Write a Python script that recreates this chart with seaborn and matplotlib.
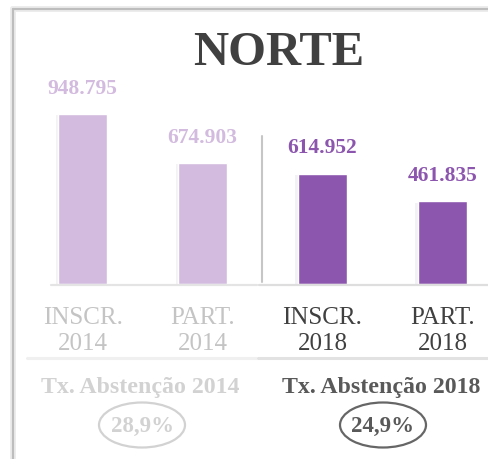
import numpy as np
import pandas as pd
import matplotlib.pyplot as plt
import seaborn as sns
from matplotlib.lines import Line2D
from matplotlib.patches import Ellipse
import matplotlib.patheffects as pe

# data
categories = ["INSCR.\n2014", "PART.\n2014", "INSCR.\n2018", "PART.\n2018"]
values = [948795, 674903, 614952, 461835]
value_labels = ["948.795", "674.903", "614.952", "461.835"]
abst_labels = ["Tx. Abstenção 2014", "Tx. Abstenção 2018"]
abst_values = ["28,9%", "24,9%"]

bar_colors = ["#d3bbdf", "#d3bbdf", "#8c56ae", "#8c56ae"]
tick_colors = ["#c4c4c4", "#c4c4c4", "#404040", "#404040"]
abst_text_colors = ["#d2d2d2", "#595959"]
abst_edge_colors = ["#d2d2d2", "#666666"]

W, H = 489, 460
sns.set_style("white")
plt.rcParams["font.family"] = ["Liberation Serif", "DejaVu Serif"]

fig = plt.figure(figsize=(W / 100, H / 100), dpi=100)


def fx(px):
    return px / W


def fy(py):
    return 1 - py / H


# bar axes: x=0 at 82.7px, 120px per category; y=0 at 285px
ppu = 119.9
x0 = 82.7
xlim = (-0.45, 3.35)
ylim = (0, 1.2e6)
scale = 170 / 948795
left = x0 + xlim[0] * ppu
right = x0 + xlim[1] * ppu
top = 285 - ylim[1] * scale
ax = fig.add_axes([fx(left), fy(285), fx(right - left), (285 - top) / H])

df = pd.DataFrame({"cat": categories, "val": values})
sns.barplot(data=df, x="cat", y="val", hue="cat", palette=bar_colors,
            width=0.405, legend=False, ax=ax, saturation=1)
for p in ax.patches:
    p.set_path_effects([pe.SimplePatchShadow(offset=(-2, -1), alpha=0.06),
                        pe.Normal()])

ax.set_xlim(*xlim)
ax.set_ylim(*ylim)
ax.set_xlabel("")
ax.set_ylabel("")
ax.set_yticks([])
sns.despine(ax=ax, left=True, bottom=True)
ax.tick_params(axis="x", length=0, pad=15.5)
for lbl, c in zip(ax.get_xticklabels(), tick_colors):
    lbl.set_color(c)
    lbl.set_fontsize(18)
    lbl.set_linespacing(1.28)

for i, (v, t) in enumerate(zip(values, value_labels)):
    ax.annotate(t, (i, v), xytext=(0, 19), textcoords="offset points",
                ha="center", va="center", fontsize=15.5, fontweight="bold",
                color=bar_colors[i])

# title
fig.text(fx(279), fy(53), "NORTE", ha="center", va="center",
         fontsize=35, fontweight="bold", color="#404040")

# frame with soft shadow
for lw, c in [(6, "#ececec"), (2.2, "#bdbdbd")]:
    fig.add_artist(Line2D([fx(13), fx(13)], [fy(10), fy(H + 5)],
                          transform=fig.transFigure, color=c, lw=lw * 0.72))
    fig.add_artist(Line2D([fx(13), fx(W + 5)], [fy(10), fy(10)],
                          transform=fig.transFigure, color=c, lw=lw * 0.72))

# separator between years
fig.add_artist(Line2D([fx(262), fx(262)], [fy(137), fy(283)],
                      transform=fig.transFigure, color="#c6c6c6", lw=1.5))

# baselines
fig.add_artist(Line2D([fx(51), fx(257)], [fy(285.5), fy(285.5)],
                      transform=fig.transFigure, color="#e4e4e4", lw=1.6))
fig.add_artist(Line2D([fx(259), fx(W)], [fy(285.5), fy(285.5)],
                      transform=fig.transFigure, color="#dedede", lw=1.6))
fig.add_artist(Line2D([fx(27), fx(256)], [fy(359), fy(359)],
                      transform=fig.transFigure, color="#f0f0f0", lw=2.2))
fig.add_artist(Line2D([fx(258), fx(W)], [fy(359), fy(359)],
                      transform=fig.transFigure, color="#e2e2e2", lw=2.2))

# abstention rates
for cx, lab, val, tc, ec in zip([140, 381], abst_labels, abst_values,
                                abst_text_colors, abst_edge_colors):
    fig.text(fx(cx), fy(388), lab, ha="center", va="center",
             fontsize=17.2, fontweight="bold", color=tc)
    ex = cx + 2
    fig.add_artist(Ellipse((fx(ex), fy(426)), 86 / W, 45 / H,
                           transform=fig.transFigure, fill=False,
                           edgecolor=ec, lw=1.6))
    fig.text(fx(ex), fy(426), val, ha="center", va="center",
             fontsize=16.5, fontweight="bold", color=tc)

fig.savefig("out.png", dpi=100)
